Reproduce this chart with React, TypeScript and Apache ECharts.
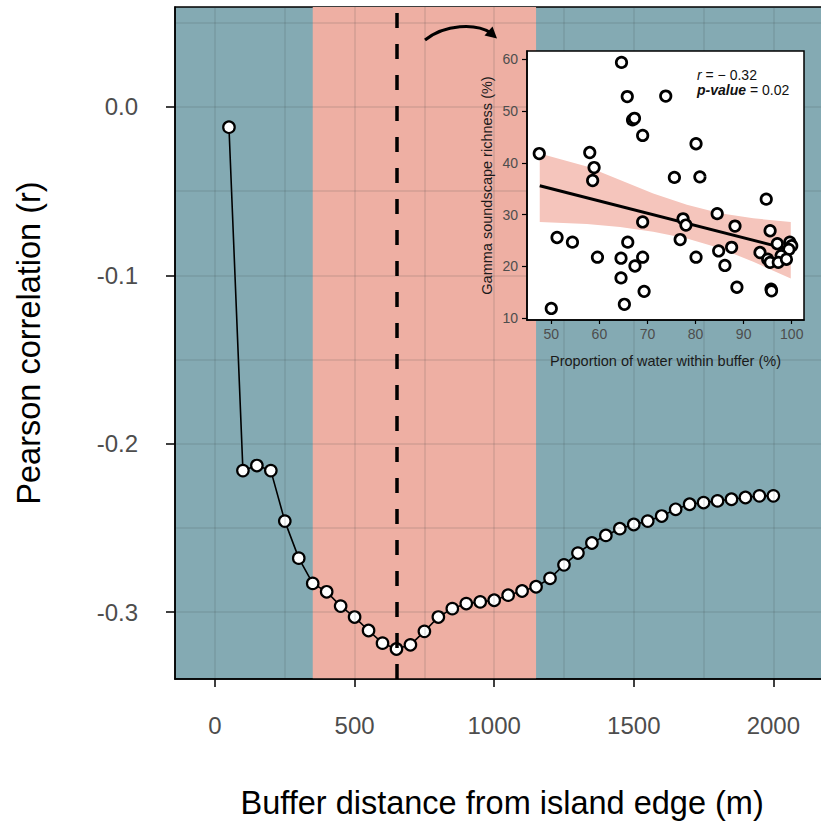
import React, { useEffect, useRef } from "react";
import * as echarts from "echarts";

const FONT = "'Liberation Sans', Arial, Helvetica, sans-serif";

// Main curve: buffer distance (m) vs Pearson r
const bufferDistance = [50, 100, 150, 200, 250, 300, 350, 400, 450, 500, 550, 600, 650, 700, 750, 800, 850, 900, 950, 1000, 1050, 1100, 1150, 1200, 1250, 1300, 1350, 1400, 1450, 1500, 1550, 1600, 1650, 1700, 1750, 1800, 1850, 1900, 1950, 2000];
const pearsonR = [-0.012, -0.216, -0.213, -0.216, -0.246, -0.268, -0.283, -0.288, -0.2965, -0.303, -0.311, -0.3185, -0.322, -0.3195, -0.3115, -0.303, -0.298, -0.295, -0.294, -0.293, -0.29, -0.2875, -0.285, -0.28, -0.272, -0.265, -0.259, -0.2545, -0.2505, -0.248, -0.246, -0.243, -0.239, -0.236, -0.235, -0.234, -0.233, -0.232, -0.231, -0.231];

const bandStart = 350;
const bandEnd = 1150;
const bestBuffer = 650;

const xTicks = [0, 500, 1000, 1500, 2000];
const yTicks = [-0.3, -0.2, -0.1, 0.0];
const xGridLines = [0, 250, 500, 750, 1000, 1250, 1500, 1750, 2000];
const yGridLines = [-0.3, -0.25, -0.2, -0.15, -0.1, -0.05, 0, 0.05];

// Inset scatter: proportion of water (%) vs gamma soundscape richness (%)
const waterProportion = [47.5, 64.6, 65.8, 73.8, 66.9, 67.3, 69.0, 80.1, 58.0, 58.9, 58.6, 75.6, 80.9, 94.7, 84.5, 77.4, 78.0, 69.0, 88.2, 95.5, 51.2, 54.4, 65.9, 76.8, 97.0, 99.6, 100.0, 99.4, 87.5, 84.8, 93.4, 97.8, 59.6, 64.5, 69.0, 80.1, 95.0, 95.5, 97.2, 98.9, 67.4, 86.1, 64.5, 88.6, 95.7, 95.8, 69.3, 65.2, 50.0];
const gammaRichness = [41.8, 59.4, 52.8, 52.9, 48.3, 48.6, 45.3, 43.7, 42.0, 39.1, 36.6, 37.2, 37.3, 33.0, 30.2, 29.2, 28.0, 28.6, 27.8, 26.9, 25.6, 24.7, 24.7, 25.2, 24.4, 24.7, 24.0, 23.3, 23.7, 23.0, 22.7, 22.1, 21.8, 21.6, 21.8, 21.8, 21.4, 20.8, 20.8, 21.4, 20.1, 20.2, 17.8, 16.0, 15.6, 15.3, 15.2, 12.7, 11.9];

const fitX = [47.6, 99.8];
const fitY = [35.6, 23.2];

const ribbonX = [47.6, 57.4, 64.3, 71.2, 78.2, 85.1, 92.0, 99.8];
const ribbonUpper = [41.8, 39.3, 36.7, 34.1, 31.9, 30.3, 29.3, 28.6];
const ribbonLower = [28.6, 28.2, 27.6, 26.7, 25.4, 23.5, 20.9, 17.7];

const insetXTicks = [50, 60, 70, 80, 90, 100];
const insetYTicks = [10, 20, 30, 40, 50, 60];

export default function App() {
  const ref = useRef<HTMLDivElement>(null);

  useEffect(() => {
    if (!ref.current) return;
    const chart = echarts.init(ref.current, undefined, { renderer: "svg" });

    const gridLineStyle = { color: "rgba(50,60,60,0.14)", width: 1.5, type: "solid" as const };

    const option: any = {
      animation: false,
      textStyle: { fontFamily: FONT },
      grid: [
        {
          left: 175,
          top: 7,
          width: 654.2,
          height: 672,
          show: true,
          backgroundColor: "#84aab3",
          borderColor: "#000",
          borderWidth: 1.5,
          containLabel: false,
          outerBoundsMode: "none",
          z: 0,
        },
        {
          left: 527,
          top: 51,
          width: 277,
          height: 269,
          show: true,
          backgroundColor: "#ffffff",
          borderColor: "#000",
          borderWidth: 1.5,
          containLabel: false,
          outerBoundsMode: "none",
          z: 30,
        },
      ],
      xAxis: [
        {
          type: "value",
          gridIndex: 0,
          min: -143.3,
          max: 2200,
          name: "Buffer distance from island edge (m)",
          nameLocation: "middle",
          nameGap: 107,
          nameTextStyle: { fontSize: 32.5, color: "#000", fontFamily: FONT },
          axisLine: { show: true, onZero: false, lineStyle: { color: "#000", width: 1.5 } },
          axisTick: { show: true, customValues: xTicks, length: 8, lineStyle: { color: "#000", width: 1.5 } },
          axisLabel: { customValues: xTicks, fontSize: 24, color: "#4d4d4d", margin: 34, fontFamily: FONT, formatter: (v: number) => String(v) },
          splitLine: { show: false },
          z: 20,
        },
        {
          type: "value",
          gridIndex: 1,
          min: 44.95,
          max: 102.55,
          name: "Proportion of water within buffer (%)",
          nameLocation: "middle",
          nameGap: 33,
          nameTextStyle: { fontSize: 14.5, color: "#1a1a1a", fontFamily: FONT },
          axisLine: { show: true, onZero: false, lineStyle: { color: "#000", width: 1.5 } },
          axisTick: { show: true, customValues: insetXTicks, length: 4, lineStyle: { color: "#000", width: 1.2 } },
          axisLabel: { customValues: insetXTicks, fontSize: 14, color: "#4d4d4d", margin: 7, fontFamily: FONT, formatter: (v: number) => String(v) },
          splitLine: { show: false },
          z: 40,
        },
      ],
      yAxis: [
        {
          type: "value",
          gridIndex: 0,
          min: -0.3398,
          max: 0.0594,
          name: "Pearson correlation (r)",
          nameLocation: "middle",
          nameGap: 130,
          nameTextStyle: { fontSize: 32.5, color: "#000", fontFamily: FONT },
          axisLine: { show: true, onZero: false, lineStyle: { color: "#000", width: 1.5 } },
          axisTick: { show: true, customValues: yTicks, length: 9, lineStyle: { color: "#000", width: 1.5 } },
          axisLabel: { customValues: yTicks, fontSize: 24, color: "#4d4d4d", margin: 37, fontFamily: FONT, formatter: (v: number) => v.toFixed(1) },
          splitLine: { show: false },
          z: 20,
        },
        {
          type: "value",
          gridIndex: 1,
          min: 9.67,
          max: 61.6,
          name: "Gamma soundscape richness (%)",
          nameLocation: "middle",
          nameGap: 33,
          nameTextStyle: { fontSize: 14.5, color: "#1a1a1a", fontFamily: FONT },
          axisLine: { show: true, onZero: false, lineStyle: { color: "#000", width: 1.5 } },
          axisTick: { show: true, customValues: insetYTicks, length: 5, lineStyle: { color: "#000", width: 1.2 } },
          axisLabel: { customValues: insetYTicks, fontSize: 14, color: "#4d4d4d", margin: 9, fontFamily: FONT, formatter: (v: number) => String(v) },
          splitLine: { show: false },
          z: 40,
        },
      ],
      series: [
        {
          type: "line",
          xAxisIndex: 0,
          yAxisIndex: 0,
          data: [],
          z: 1,
          silent: true,
          markArea: {
            silent: true,
            itemStyle: { color: "#eeafa3" },
            data: [[{ xAxis: bandStart }, { xAxis: bandEnd }]],
          },
        },
        {
          type: "line",
          xAxisIndex: 0,
          yAxisIndex: 0,
          data: [],
          z: 2,
          silent: true,
          markLine: {
            silent: true,
            symbol: ["none", "none"],
            label: { show: false },
            lineStyle: gridLineStyle,
            emphasis: { disabled: true },
            data: [
              ...xGridLines.map((v) => ({ xAxis: v })),
              ...yGridLines.map((v) => ({ yAxis: v })),
            ],
          },
        },
        {
          type: "line",
          xAxisIndex: 0,
          yAxisIndex: 0,
          data: [],
          z: 3,
          silent: true,
          markLine: {
            silent: true,
            symbol: ["none", "none"],
            label: { show: false },
            emphasis: { disabled: true },
            lineStyle: { color: "#000", width: 3.5, type: [15, 16] },
            data: [{ xAxis: bestBuffer }],
          },
        },
        {
          type: "line",
          xAxisIndex: 0,
          yAxisIndex: 0,
          z: 4,
          data: bufferDistance.map((d, i) => [d, pearsonR[i]]),
          symbol: "circle",
          symbolSize: 11.5,
          showAllSymbol: true,
          lineStyle: { color: "#000", width: 1.6 },
          itemStyle: { color: "#fff", borderColor: "#000", borderWidth: 2.2 },
        },
        {
          type: "custom",
          xAxisIndex: 1,
          yAxisIndex: 1,
          z: 31,
          silent: true,
          data: [[ribbonX[0], ribbonUpper[0]]],
          renderItem: (params: any, api: any) => {
            const upper = ribbonX.map((x, i) => api.coord([x, ribbonUpper[i]]));
            const lower = ribbonX.map((x, i) => api.coord([x, ribbonLower[i]])).reverse();
            return {
              type: "polygon",
              shape: { points: upper.concat(lower) },
              style: { fill: "#f5c5bc" },
            };
          },
        },
        {
          type: "line",
          xAxisIndex: 1,
          yAxisIndex: 1,
          z: 32,
          silent: true,
          symbol: "none",
          data: fitX.map((x, i) => [x, fitY[i]]),
          lineStyle: { color: "#000", width: 3 },
        },
        {
          type: "scatter",
          xAxisIndex: 1,
          yAxisIndex: 1,
          z: 33,
          symbol: "circle",
          symbolSize: 10.5,
          data: waterProportion.map((x, i) => [x, gammaRichness[i]]),
          itemStyle: { color: "#fff", borderColor: "#000", borderWidth: 2.7, opacity: 1 },
        },
      ],
      graphic: [
        {
          type: "text",
          z: 100,
          x: 697,
          y: 75,
          style: {
            text: "{i|r} = − 0.32",
            fontSize: 14,
            fontFamily: FONT,
            fill: "#111",
            verticalAlign: "middle",
            rich: { i: { fontStyle: "italic", fontSize: 14, fontFamily: FONT, fill: "#111" } },
          },
        },
        {
          type: "text",
          z: 100,
          x: 697,
          y: 90,
          style: {
            text: "{i|p-value} = 0.02",
            fontSize: 14,
            fontFamily: FONT,
            fill: "#111",
            verticalAlign: "middle",
            rich: { i: { fontStyle: "italic", fontWeight: "bold", fontSize: 14, fontFamily: FONT, fill: "#111" } },
          },
        },
        {
          type: "bezierCurve",
          z: 100,
          shape: { x1: 425, y1: 40, cpx1: 445, cpy1: 24, cpx2: 476, cpy2: 23, x2: 491, y2: 33 },
          style: { stroke: "#000", lineWidth: 3, fill: "none" },
        },
        {
          type: "polygon",
          z: 100,
          shape: { points: [[497, 38.5], [484.5, 35.5], [492.5, 26.5]] },
          style: { fill: "#000" },
        },
      ],
    };

    chart.setOption(option);
    return () => chart.dispose();
  }, []);

  return (
    <div
      ref={ref}
      style={{ position: "absolute", left: 0, top: 0, width: 821, height: 827, background: "#fff" }}
    />
  );
}
